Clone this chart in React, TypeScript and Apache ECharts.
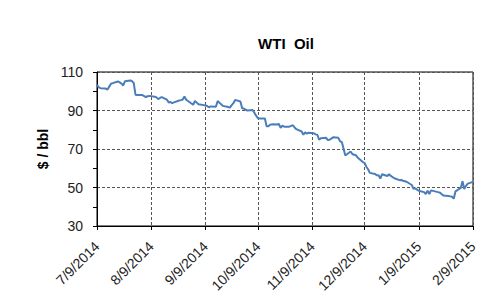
import React, { useEffect, useRef } from "react";
import * as echarts from "echarts";

const TITLE = "WTI  Oil";
const Y_NAME = "$ / bbl";
const Y_MIN = 30;
const Y_MAX = 110;
const Y_STEP = 20;

// first and last calendar day on the axis: [year, month, day]
const AXIS_START = [2014, 7, 9];
const AXIS_END = [2015, 2, 9];

const jul2014Days = [9, 10, 11, 14, 15, 16, 17, 18, 21, 22, 23, 24, 25, 28, 29, 30, 31];
const jul2014Prices = [103.4, 102.0, 101.6, 101.4, 100.9, 102.4, 103.9, 104.2, 105.1, 104.6, 104.0, 103.0, 105.2, 105.6, 105.3, 104.3, 98.2];

const aug2014Days = [1, 4, 5, 6, 7, 8, 11, 12, 13, 14, 15, 18, 19, 20, 21, 22, 25, 26, 27, 28, 29];
const aug2014Prices = [98.0, 98.0, 97.4, 97.0, 97.4, 97.6, 97.2, 96.8, 95.9, 96.5, 97.0, 95.6, 94.2, 94.4, 93.8, 94.2, 95.2, 95.4, 95.7, 97.3, 95.6];

const sep2014Days = [2, 3, 4, 5, 8, 9, 10, 11, 12, 15, 16, 17, 18, 19, 22, 23, 24, 25, 26, 29, 30];
const sep2014Prices = [93.0, 95.0, 94.1, 93.3, 92.8, 92.6, 92.3, 91.7, 92.1, 92.0, 94.9, 94.0, 93.2, 92.4, 91.8, 91.5, 92.8, 93.8, 95.5, 94.7, 91.2];

const oct2014Days = [1, 2, 3, 6, 7, 8, 9, 10, 13, 14, 15, 16, 17, 20, 21, 22, 23, 24, 27, 28, 29, 30, 31];
const oct2014Prices = [91.0, 90.4, 90.0, 90.3, 88.8, 87.3, 86.0, 85.9, 85.8, 81.8, 81.8, 82.6, 82.8, 82.7, 83.0, 81.0, 82.1, 81.6, 81.6, 82.0, 82.3, 81.2, 80.3];

const nov2014Days = [3, 4, 5, 6, 7, 10, 11, 12, 13, 14, 17, 18, 19, 20, 21, 24, 25, 26, 28];
const nov2014Prices = [79.1, 77.4, 78.6, 78.0, 78.5, 78.2, 77.6, 77.4, 74.8, 75.6, 75.8, 74.6, 74.8, 75.4, 76.1, 75.8, 74.0, 73.6, 66.6];

const dec2014Days = [1, 2, 3, 4, 5, 8, 9, 10, 11, 12, 15, 16, 17, 18, 19, 22, 23, 24, 26, 29, 30, 31];
const dec2014Prices = [68.7, 67.4, 67.0, 66.8, 65.6, 63.2, 62.8, 60.8, 59.5, 57.6, 57.0, 56.3, 56.4, 54.6, 56.9, 56.0, 56.9, 56.0, 54.8, 53.8, 53.9, 53.5];

const jan2015Days = [2, 5, 6, 7, 8, 9, 12, 13, 14, 15, 16, 20, 21, 22, 23, 26, 27, 28, 29, 30];
const jan2015Prices = [53.0, 51.3, 49.3, 49.6, 48.9, 48.3, 47.6, 46.6, 48.4, 46.6, 48.5, 47.6, 47.4, 46.6, 45.9, 45.6, 45.4, 45.2, 44.2, 48.0];

const feb2015Days = [2, 3, 4, 5, 6, 9];
const feb2015Prices = [49.8, 53.3, 49.2, 50.9, 52.0, 52.9];

const MONTHS: [number, number, number[], number[]][] = [
  [2014, 7, jul2014Days, jul2014Prices],
  [2014, 8, aug2014Days, aug2014Prices],
  [2014, 9, sep2014Days, sep2014Prices],
  [2014, 10, oct2014Days, oct2014Prices],
  [2014, 11, nov2014Days, nov2014Prices],
  [2014, 12, dec2014Days, dec2014Prices],
  [2015, 1, jan2015Days, jan2015Prices],
  [2015, 2, feb2015Days, feb2015Prices],
];

const label = (y: number, m: number, d: number) => `${m}/${d}/${y}`;

function buildCategories(): string[] {
  const out: string[] = [];
  const start = Date.UTC(AXIS_START[0], AXIS_START[1] - 1, AXIS_START[2]);
  const end = Date.UTC(AXIS_END[0], AXIS_END[1] - 1, AXIS_END[2]);
  for (let t = start; t <= end; t += 86400000) {
    const dt = new Date(t);
    out.push(label(dt.getUTCFullYear(), dt.getUTCMonth() + 1, dt.getUTCDate()));
  }
  return out;
}

function buildSeries(categories: string[]): (number | null)[] {
  const map = new Map<string, number>();
  MONTHS.forEach(([y, m, days, prices]) => {
    days.forEach((d, i) => map.set(label(y, m, d), prices[i]));
  });
  return categories.map((c) => (map.has(c) ? (map.get(c) as number) : null));
}

const isMonthMark = (_i: number, value: string) => String(value).split("/")[1] === "9";

export default function App() {
  const ref = useRef<HTMLDivElement>(null);
  useEffect(() => {
    if (!ref.current) return;
    const chart = echarts.init(ref.current, undefined, { renderer: "svg" });
    const categories = buildCategories();
    const values = buildSeries(categories);
    const font = "'Liberation Sans', Arial, sans-serif";
    chart.setOption({
      animation: false,
      backgroundColor: "#fff",
      title: {
        text: TITLE,
        left: 286,
        top: 36,
        padding: 0,
        textAlign: "center",
        textStyle: { fontFamily: font, fontSize: 15, fontWeight: "bold", color: "#000" },
      },
      grid: {
        left: 97,
        right: 17,
        top: 72,
        bottom: 75,
        show: true,
        borderColor: "#000",
        borderWidth: 1,
      },
      xAxis: {
        type: "category",
        data: categories,
        boundaryGap: false,
        axisLine: { lineStyle: { color: "#000", width: 1 } },
        axisTick: { show: true, interval: isMonthMark, length: 4, lineStyle: { color: "#000" } },
        axisLabel: {
          interval: isMonthMark,
          rotate: 45,
          margin: 18,
          fontFamily: font,
          fontSize: 14,
          color: "#222",
        },
        splitLine: {
          show: true,
          interval: isMonthMark,
          lineStyle: { color: "#555", type: [3, 2], width: 1 },
        },
      },
      yAxis: {
        type: "value",
        min: Y_MIN,
        max: Y_MAX,
        interval: Y_STEP,
        name: Y_NAME,
        nameLocation: "middle",
        nameGap: 44,
        nameTextStyle: { fontFamily: font, fontSize: 14, fontWeight: "bold", color: "#000" },
        axisLine: { show: true, lineStyle: { color: "#000", width: 1 } },
        axisTick: { show: true, length: 4, lineStyle: { color: "#000" } },
        minorTick: { show: true, splitNumber: 2, length: 4, lineStyle: { color: "#000" } },
        axisLabel: { margin: 14, fontFamily: font, fontSize: 14, color: "#222" },
        splitLine: { show: true, lineStyle: { color: "#555", type: [3, 2], width: 1 } },
      },
      series: [
        {
          type: "line",
          data: values,
          connectNulls: true,
          symbol: "none",
          lineStyle: { color: "#4a7ebb", width: 2 },
        },
      ],
    });
    return () => chart.dispose();
  }, []);
  return (
    <div
      ref={ref}
      style={{ position: "fixed", left: 0, top: 0, width: 490, height: 301 }}
    />
  );
}
